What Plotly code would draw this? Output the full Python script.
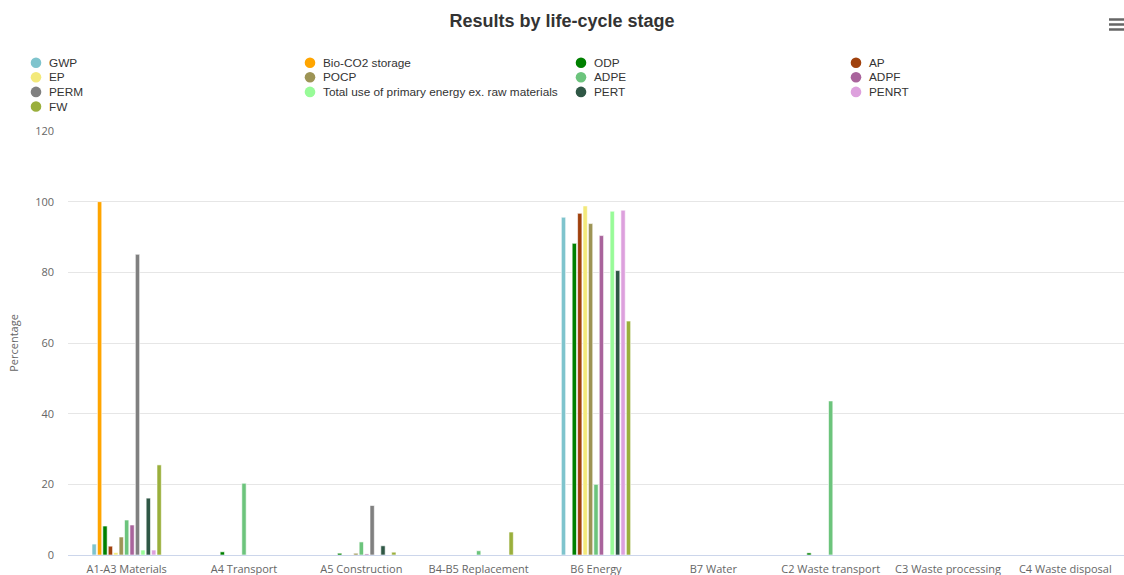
import plotly.graph_objects as go

# Life-cycle stages (x categories)
stages = ["A1-A3 Materials", "A4 Transport", "A5 Construction", "B4-B5 Replacement",
          "B6 Energy", "B7 Water", "C2 Waste transport", "C3 Waste processing",
          "C4 Waste disposal"]

# Indicator names and their colours
indicators = ["GWP", "Bio-CO2 storage", "ODP", "AP", "EP", "POCP", "ADPE", "ADPF",
              "PERM", "Total use of primary energy ex. raw materials", "PERT", "PENRT", "FW"]
colors = ["#7fc4cd", "#ffa500", "#008000", "#a0410d", "#f3e97a", "#9d9455", "#6cc47c",
          "#a9649c", "#808080", "#98fb98", "#2f5745", "#dda0dd", "#9aaf3c"]

# Percentage share per stage for each indicator
gwp = [3.1, 0, 0, 0, 95.6, 0, 0, 0, 0]
bio_co2 = [100.0, 0, 0, 0, 0, 0, 0, 0, 0]
odp = [8.2, 0.9, 0.5, 0, 88.2, 0, 0.6, 0, 0]
ap = [2.5, 0, 0, 0, 96.7, 0, 0, 0, 0]
ep = [0.7, 0, 0, 0, 98.8, 0, 0, 0, 0]
pocp = [5.1, 0, 0.5, 0, 93.8, 0, 0, 0, 0]
adpe = [9.9, 20.3, 3.7, 1.2, 20.0, 0, 43.6, 0, 0]
adpf = [8.5, 0, 0.3, 0, 90.4, 0, 0, 0, 0]
perm = [85.1, 0, 14.0, 0, 0, 0, 0, 0, 0]
total_pe = [1.4, 0, 0, 0, 97.3, 0, 0, 0, 0]
pert = [16.1, 0, 2.6, 0, 80.5, 0, 0, 0, 0]
penrt = [1.4, 0, 0, 0, 97.6, 0, 0, 0, 0]
fw = [25.5, 0, 0.8, 6.5, 66.2, 0, 0, 0, 0]

series = [gwp, bio_co2, odp, ap, ep, pocp, adpe, adpf, perm, total_pe, pert, penrt, fw]

W, H = 1124, 575
M_L, M_R, M_T, M_B = 68, 0, 131, 20
PW = W - M_L - M_R
PH = H - M_T - M_B


def px_x(x):
    return (x - M_L) / PW


def px_y(y):
    return (H - M_B - y) / PH


fig = go.Figure()
for name, col, vals in zip(indicators, colors, series):
    fig.add_trace(go.Bar(
        x=stages, y=vals, name=name,
        marker=dict(color=col, line=dict(color="white", width=0.6)),
        showlegend=False,
    ))

# Legend drawn as four columns of circle markers + labels
col_x = [36, 310, 581, 856]
row_y0, row_step = 62.7, 14.6
shapes = []
annotations = []
for i, (name, col) in enumerate(zip(indicators, colors)):
    cx = col_x[i % 4]
    cy = row_y0 + (i // 4) * row_step
    shapes.append(dict(
        type="circle", xref="paper", yref="paper",
        xsizemode="pixel", ysizemode="pixel",
        xanchor=px_x(cx), yanchor=px_y(cy),
        x0=-5.3, x1=5.3, y0=-5.3, y1=5.3,
        fillcolor=col, line=dict(width=0),
    ))
    annotations.append(dict(
        text=name, xref="paper", yref="paper",
        x=px_x(cx + 11), y=px_y(cy), xanchor="left", yanchor="middle",
        showarrow=False,
        font=dict(family="Liberation Sans, Arial", size=11.8, color="#333333"),
    ))

# Menu icon (three bars) at the top right
for yy in (19.5, 24.5, 29.5):
    shapes.append(dict(
        type="line", xref="paper", yref="paper",
        x0=px_x(1109), x1=px_x(1124), y0=px_y(yy), y1=px_y(yy),
        line=dict(color="#666666", width=2.5),
    ))

fig.update_layout(
    width=W, height=H,
    margin=dict(l=M_L, r=M_R, t=M_T, b=M_B),
    paper_bgcolor="white", plot_bgcolor="white",
    title=dict(
        text="<b>Results by life-cycle stage</b>",
        x=0.5, xref="container", xanchor="center",
        y=1 - 21 / H, yref="container", yanchor="middle",
        font=dict(family="Liberation Sans, Arial", size=18, color="#333333"),
    ),
    barmode="group", bargap=0.4, bargroupgap=0.2,
    shapes=shapes, annotations=annotations,
    xaxis=dict(
        type="category", categoryorder="array", categoryarray=stages,
        showgrid=False, showline=True, linecolor="#ccd6eb", linewidth=1,
        ticks="", ticklabelstandoff=4, automargin=False,
        tickfont=dict(family="Open Sans, Arial", size=11, color="#666666"),
        fixedrange=True,
    ),
    yaxis=dict(
        range=[0, 120], dtick=20, tick0=0,
        showgrid=True, gridcolor="#e6e6e6", gridwidth=1,
        zeroline=False, showline=False, ticks="",
        ticklabelstandoff=13, automargin=False,
        tickfont=dict(family="Open Sans, Arial", size=11, color="#666666"),
        title=dict(text="Percentage", standoff=14,
                   font=dict(family="Open Sans, Arial", size=11, color="#666666")),
        fixedrange=True,
    ),
)

fig.write_html("out.html")
